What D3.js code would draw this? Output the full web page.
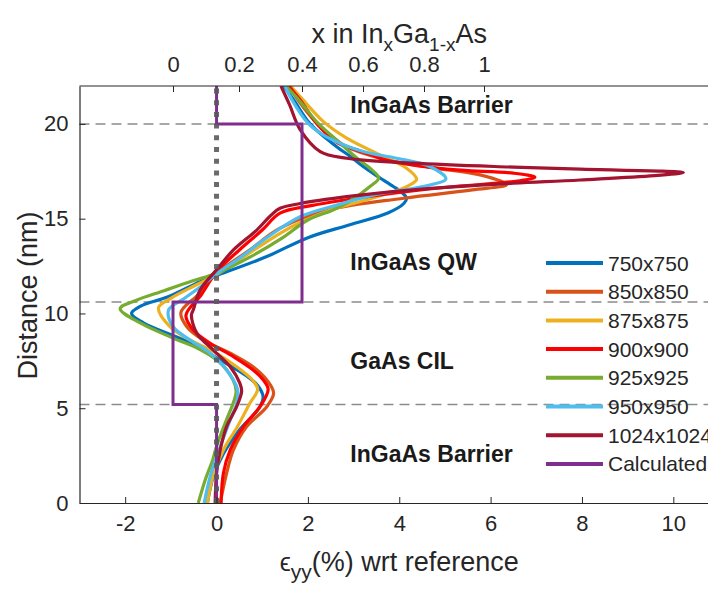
<!DOCTYPE html>
<html>
<head>
<meta charset="utf-8">
<script src="https://cdn.jsdelivr.net/npm/d3@7"></script>
<style>
  html, body { margin: 0; padding: 0; background: #fff; }
  svg { display: block; font-family: "Liberation Sans", Arial, sans-serif; }
</style>
</head>
<body>
<svg id="chart" width="708" height="590"></svg>
<script>
// Strain profiles: [distance (nm), eps_yy (%)] for each reconstruction size
const s750 = [[0,-0.2],[1.4,-0.07],[2.6,0.15],[3.85,0.5],[5.0,0.93],[5.6,1.02],[6.2,0.9],[6.7,0.66],[7.55,0.08],[8.45,-0.58],[9.5,-1.6],[10.0,-1.86],[10.4,-1.65],[10.85,-1.09],[11.68,-0.36],[12.0,0],[13.0,1.1],[14.0,2.0],[14.67,2.9],[15.3,3.75],[15.8,4.1],[16.08,4.16],[16.4,4.05],[16.7,3.87],[17.2,3.55],[17.75,3.21],[18.3,2.92],[18.8,2.63],[20.0,2.05],[21.3,1.68],[22,1.47]];
const s850 = [[0,0.08],[1.57,0.22],[2.8,0.37],[4.03,0.66],[5.08,1.1],[5.8,1.25],[6.49,1.1],[7.19,0.8],[7.9,0.3],[8.6,-0.29],[9.3,-0.65],[10.05,-0.78],[11.0,-0.4],[12.1,0],[13.3,0.7],[14.5,1.39],[15.46,2.45],[16.08,4.1],[16.52,5.6],[16.8,6.35],[17.31,5.77],[17.71,4.67],[18.19,3.58],[18.8,2.85],[19.86,2.27],[21.27,1.78],[22,1.6]];
const s875 = [[0,-0.2],[1.4,-0.08],[2.8,0.15],[4.0,0.45],[5.26,0.73],[6.0,0.9],[6.5,0.78],[7.19,0.44],[7.9,0],[8.6,-0.58],[9.3,-1.02],[10.3,-1.27],[10.8,-1.0],[11.5,-0.45],[12.05,0],[13.0,0.6],[14.23,1.39],[14.8,1.83],[15.46,2.5],[16.08,3.4],[16.69,4.16],[17.08,4.38],[17.66,4.16],[18.36,3.58],[19.25,2.85],[20.12,2.34],[21.44,1.83],[22,1.62]];
const s900 = [[0,0.1],[1.57,0.15],[2.8,0.3],[4.03,0.59],[5.08,0.95],[6.0,1.13],[6.5,1.02],[7.02,0.8],[7.72,0.37],[8.43,-0.14],[9.13,-0.51],[9.9,-0.67],[11.0,-0.33],[12.2,0],[13.35,0.5],[14.4,1.0],[15.29,1.39],[15.7,2.1],[16.25,3.58],[16.66,5.04],[16.96,6.5],[17.19,6.97],[17.4,6.5],[17.61,5.04],[18.1,3.7],[18.36,3.4],[18.63,3.07],[19.0,2.65],[20.0,2.2],[21.2,1.85],[22,1.58]];
const s925 = [[0,-0.4],[1.2,-0.25],[2.3,-0.08],[3.0,0],[4.4,0.22],[5.3,0.37],[5.9,0.43],[6.5,0.36],[7.4,0.08],[8.1,-0.36],[8.7,-0.95],[9.5,-1.67],[10.25,-2.11],[10.7,-1.75],[11.2,-1.15],[11.7,-0.55],[12.12,0],[13.0,0.75],[14.0,1.45],[14.93,2.0],[15.46,2.55],[15.9,2.9],[16.7,3.36],[17.15,3.55],[17.66,3.36],[18.2,3.07],[19.0,2.7],[20.04,2.22],[21.27,1.8],[22,1.52]];
const s950 = [[0,-0.27],[1.39,-0.14],[2.97,0.08],[4.38,0.3],[5.26,0.44],[6.0,0.46],[7.02,0.22],[7.9,-0.14],[8.6,-0.58],[9.3,-0.95],[10.18,-1.05],[10.8,-0.7],[11.5,-0.3],[12.1,0],[13.0,0.55],[14.0,1.1],[15.1,1.83],[15.7,2.6],[16.25,3.45],[16.78,4.67],[17.1,5.02],[17.75,4.67],[18.19,3.94],[18.54,3.21],[19.33,2.4],[20.04,2.0],[21.27,1.65],[22,1.5]];
const s1024 = [[0,-0.03],[1.57,0],[2.8,0.08],[4.03,0.22],[5.08,0.44],[5.9,0.55],[6.32,0.51],[7.19,0.3],[8.07,-0.07],[8.95,-0.43],[9.92,-0.55],[10.18,-0.51],[11.24,-0.36],[12.3,0],[13.35,0.37],[14.4,0.88],[15.2,1.2],[15.55,1.39],[15.8,1.83],[16.16,2.85],[16.52,4.3],[16.87,6.5],[17.04,7.96],[17.43,10.22],[17.61,7.96],[17.72,6.5],[17.93,4.3],[18.19,2.85],[18.54,2.27],[19.7,1.83],[21.0,1.6],[22,1.41]];

const seriesNames = ["750x750","850x850","875x875","900x900","925x925","950x950","1024x1024"];
const seriesData = [s750, s850, s875, s900, s925, s950, s1024];
const seriesColors = ["#0072BD","#D95319","#EDB120","#FF0000","#77AC30","#4DBEEE","#A2142F"];

// Calculated indium fraction per layer: [from (nm), to (nm), x]
const calcLayers = [[0,5.2,0.132],[5.2,10.6,0],[10.6,20,0.4],[20,22,0.132]];
const calcName = "Calculated";
const calcColor = "#7E2F8E";

// Layer boundaries and labels
const layerBounds = [5.2, 10.6, 20];
const layerLabels = ["InGaAs Barrier","GaAs CIL","InGaAs QW","InGaAs Barrier"];
const layerLabelDist = [2.6, 7.5, 12.7, 21];

// Axis ticks
const strainTicks = [-2,0,2,4,6,8,10];
const distTicks = [0,5,10,15,20];
const compTicks = [0,0.2,0.4,0.6,0.8,1];

const svg = d3.select("#chart");
const plotL = 79.5, plotR = 719, plotT = 86, plotB = 503;

const x = d3.scaleLinear().domain([-3, 11]).range([plotL, plotR]);
// Composition axis is not linear in strain: piecewise mapping through its ticks
const xTop = d3.scaleLinear().domain(compTicks).range([173, 239, 302, 363, 424, 484]);
const y = d3.scaleLinear().domain([0, 22]).range([plotB, plotT]);

svg.append("defs").append("clipPath").attr("id", "plot")
  .append("rect").attr("x", plotL).attr("y", plotT).attr("width", plotR - plotL).attr("height", plotB - plotT);

const ink = "#262626";

// Layer boundary lines
svg.append("g").selectAll("line").data(layerBounds).join("line")
  .attr("x1", plotL).attr("x2", plotR)
  .attr("y1", d => y(d)).attr("y2", d => y(d))
  .attr("stroke", "#8c8c8c").attr("stroke-width", 1.5).attr("stroke-dasharray", "10,6");

// Layer labels
svg.append("g").selectAll("text").data(layerLabels).join("text")
  .attr("x", x(2.93)).attr("y", (d, i) => y(layerLabelDist[i]))
  .attr("dominant-baseline", "central")
  .attr("font-size", 23).attr("font-weight", "bold").attr("fill", "#1a1a1a")
  .text(d => d);

const plot = svg.append("g").attr("clip-path", "url(#plot)");

const line = d3.line()
  .x(d => x(d[1])).y(d => y(d[0]))
  .curve(d3.curveCatmullRom.alpha(0.5));

plot.selectAll("path.series").data(seriesData).join("path")
  .attr("class", "series")
  .attr("d", line)
  .attr("fill", "none")
  .attr("stroke", (d, i) => seriesColors[i])
  .attr("stroke-width", 3.2)
  .attr("stroke-linejoin", "round");

// Calculated composition as a step profile on the top (composition) axis
const stepPts = [];
calcLayers.forEach(l => { stepPts.push([l[0], l[2]]); stepPts.push([l[1], l[2]]); });
plot.append("path")
  .attr("d", d3.line().x(d => xTop(d[1])).y(d => y(d[0]))(stepPts))
  .attr("fill", "none").attr("stroke", calcColor).attr("stroke-width", 3);

// Zero-strain reference
plot.append("line")
  .attr("x1", x(0)).attr("x2", x(0)).attr("y1", y(0)).attr("y2", y(22))
  .attr("stroke", "#5a5a5a").attr("stroke-width", 5).attr("stroke-dasharray", "5,6.7")
  .attr("opacity", 0.9);

// Axes
function styleAxis(g) {
  g.selectAll("path.domain").attr("stroke", ink).attr("stroke-width", 1.2);
  g.selectAll(".tick line").attr("stroke", ink);
  g.selectAll(".tick text").attr("fill", ink).attr("font-size", 22)
    .attr("font-family", "Liberation Sans, Arial, sans-serif");
}

svg.append("g").attr("transform", `translate(0,${plotB})`)
  .call(d3.axisBottom(x).tickValues(strainTicks).tickFormat(d => String(d)).tickSizeInner(-6).tickSizeOuter(0).tickPadding(12))
  .call(styleAxis);

svg.append("g").attr("transform", `translate(${plotL},0)`)
  .call(d3.axisLeft(y).tickValues(distTicks).tickFormat(d => String(d)).tickSizeInner(-6).tickSizeOuter(0).tickPadding(11))
  .call(styleAxis);

// Top border, then the composition ticks on it
svg.append("line").attr("x1", plotL).attr("x2", plotR).attr("y1", plotT).attr("y2", plotT)
  .attr("stroke", ink).attr("stroke-width", 1.2);
svg.append("g").attr("transform", `translate(0,${plotT})`)
  .call(d3.axisTop(xTop).tickValues(compTicks).tickFormat(d => String(d)).tickSizeInner(-6).tickSizeOuter(0).tickPadding(14))
  .call(styleAxis)
  .call(g => g.select("path.domain").remove());

// Axis titles
svg.append("text")
  .attr("transform", `translate(28,${(plotT + plotB) / 2 + 1}) rotate(-90)`)
  .attr("text-anchor", "middle").attr("dominant-baseline", "central")
  .attr("font-size", 27).attr("fill", ink)
  .text("Distance (nm)");

const tt = svg.append("text").attr("x", (plotL + plotR) / 2).attr("y", 43)
  .attr("text-anchor", "middle").attr("font-size", 27).attr("fill", ink);
tt.append("tspan").text("x in In");
tt.append("tspan").attr("font-size", 19).attr("dy", 8).text("x");
tt.append("tspan").attr("dy", -8).text("Ga");
tt.append("tspan").attr("font-size", 19).attr("dy", 8).text("1-x");
tt.append("tspan").attr("dy", -8).text("As");

const bt = svg.append("text").attr("x", (plotL + plotR) / 2).attr("y", 571)
  .attr("text-anchor", "middle").attr("font-size", 27).attr("fill", ink);
bt.append("tspan").attr("font-size", 25).text("\u03F5");
bt.append("tspan").attr("font-size", 21).attr("dy", 8).text("yy");
bt.append("tspan").attr("dy", -8).text("(%) wrt reference");

// Legend
const legNames = seriesNames.concat([calcName]);
const legColors = seriesColors.concat([calcColor]);
const leg = svg.append("g");
const rows = leg.selectAll("g").data(legNames).join("g")
  .attr("transform", (d, i) => `translate(546,${263 + i * 28.7})`);
rows.append("line").attr("x1", 0).attr("x2", 57).attr("y1", 0).attr("y2", 0)
  .attr("stroke", (d, i) => legColors[i]).attr("stroke-width", 4);
rows.append("text").attr("x", 62).attr("y", 0).attr("dominant-baseline", "central")
  .attr("font-size", 21).attr("fill", ink).text(d => d);
</script>
</body>
</html>
